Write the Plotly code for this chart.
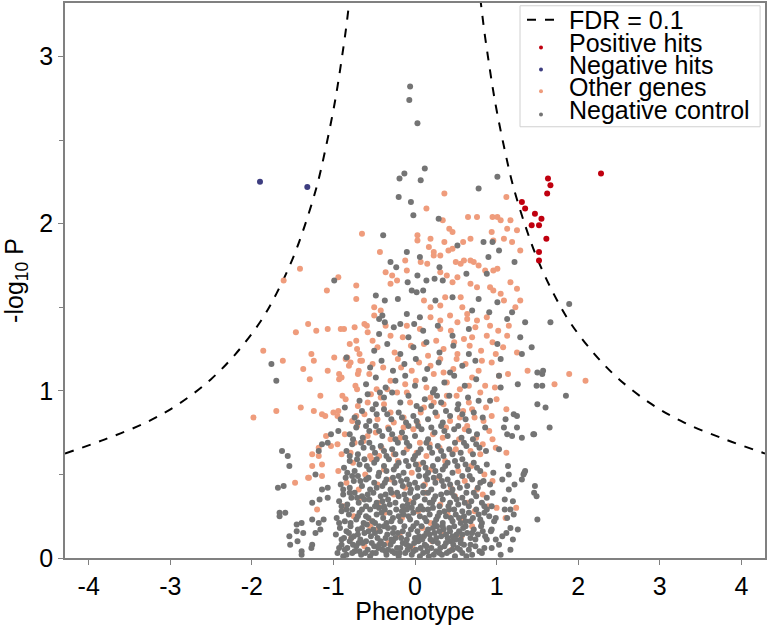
import plotly.graph_objects as go

# FDR = 0.1 threshold (right branch, left is mirrored)
fdr_x = [0.80, 0.85, 0.90, 0.95, 1.00, 1.10, 1.20, 1.35, 1.50, 1.70, 1.90, 2.20, 2.50, 2.90, 3.30, 3.80, 4.29]
fdr_y = [3.35, 3.15, 2.98, 2.82, 2.68, 2.44, 2.23, 1.99, 1.79, 1.58, 1.41, 1.22, 1.07, 0.92, 0.81, 0.71, 0.625]

positive_hits = [(2.28, 2.30), (1.63, 2.27), (1.66, 2.23), (1.62, 2.18), (1.31, 2.13), (1.35, 2.09),
                 (1.47, 2.06), (1.55, 2.03), (1.43, 1.99), (1.52, 1.99), (1.61, 1.91), (1.52, 1.83),
                 (1.52, 1.78)]

negative_hits = [(-1.90, 2.25), (-1.32, 2.22)]

# sparse "other genes" points, read one by one
other_outer = [
    (0.36, 2.18), (0.14, 2.09), (1.12, 2.16), (0.65, 2.04), (0.95, 2.04), (-0.65, 1.94), (-0.43, 1.83),
    (-0.94, 1.68), (-0.72, 1.63), (-0.72, 1.55), (0.34, 2.02), (0.42, 1.97), (0.46, 1.95), (0.76, 2.04),
    (1.01, 2.04), (1.05, 2.02), (1.17, 2.02), (1.13, 1.97), (1.25, 1.96), (1.09, 1.91), (1.19, 1.89),
    (1.29, 1.84), (0.94, 1.95), (0.96, 1.90), (0.03, 1.93), (0.03, 1.90), (0.19, 1.91), (0.36, 1.89),
    (0.59, 1.89), (0.68, 1.91), (0.17, 1.86), (0.23, 1.83), (0.41, 1.84), (0.46, 1.85), (-0.12, 1.78),
    (-0.10, 1.72), (0.07, 1.77), (0.15, 1.76), (0.23, 1.81), (0.31, 1.81), (0.50, 1.77), (0.56, 1.76),
    (0.60, 1.78), (0.68, 1.78), (0.72, 1.77), (0.78, 1.75), (0.86, 1.72), (0.96, 1.72), (1.01, 1.73),
    (-0.36, 1.71), (-0.28, 1.69), (-0.30, 1.64), (-0.22, 1.66), (0.31, 1.71), (0.39, 1.69), (0.46, 1.65),
    (0.52, 1.68), (0.68, 1.64), (0.76, 1.62), (0.92, 1.62), (0.96, 1.60), (1.05, 1.58), (1.17, 1.65),
    (1.25, 1.61), (-0.50, 1.50), (-0.42, 1.48), (-0.50, 1.45), (0.11, 1.54), (0.19, 1.50), (0.31, 1.51),
    (0.37, 1.56), (0.56, 1.56), (0.58, 1.50), (0.64, 1.46), (1.09, 1.54), (1.23, 1.50), (1.29, 1.54),
    (0.19, 1.44), (0.31, 1.42), (0.43, 1.45), (0.52, 1.41), (0.64, 1.43), (0.76, 1.42), (0.88, 1.44),
    (-0.87, 1.37), (-0.59, 1.39), (-1.31, 1.40), (-1.46, 1.35), (-1.21, 1.36), (-1.07, 1.37), (-0.91, 1.37),
    (-1.86, 1.24), (-1.62, 1.18), (-1.27, 1.22), (-1.24, 1.18), (-1.37, 1.13), (-1.29, 1.07), (-1.07, 1.12),
    (-0.99, 1.20), (-0.93, 1.10), (-0.93, 1.07), (-1.16, 0.97), (-1.40, 0.90), (-1.70, 0.88), (-1.24, 0.88),
    (-1.14, 0.86), (-1.10, 0.85), (-1.98, 0.84), (-0.79, 1.17), (-0.83, 1.20), (-0.72, 1.30), (-0.62, 1.40),
    (-0.71, 1.25), (-0.67, 1.18), (-0.70, 1.10), (-0.71, 1.01), (-1.00, 0.87), (-0.95, 0.85), (-1.41, 1.73),
    (-1.61, 1.66), (-1.08, 1.60), (-1.26, 0.62), (-1.26, 0.55), (-1.47, 0.45), (-1.31, 0.48), (-1.20, 0.29),
    (-1.30, 0.48), (-1.14, 0.49), (-1.18, 0.66), (-1.18, 0.61), (-1.14, 0.56), (-1.03, 0.67), (-1.09, 0.73),
    (1.15, 1.39), (1.13, 1.33), (1.25, 1.23), (1.38, 1.12), (1.14, 1.10), (1.71, 1.04), (1.89, 1.10),
    (2.09, 1.06), (1.12, 0.89), (1.12, 0.63), (1.24, 0.30), (1.11, 0.24), (1.00, 0.30)]

# dense part of the "other genes" cloud, estimated band by band
other_core = [
    (-0.78, 0.12), (-0.62, 0.07), (-0.47, 0.17), (-0.33, 0.09), (-0.19, 0.14), (-0.03, 0.06), (0.09, 0.18),
    (0.21, 0.10), (0.34, 0.15), (0.45, 0.05), (0.57, 0.13), (0.70, 0.19), (-0.55, 0.19), (0.26, 0.19),
    (-0.88, 0.31), (-0.75, 0.25), (-0.66, 0.36), (-0.53, 0.22), (-0.45, 0.33), (-0.37, 0.27), (-0.26, 0.38),
    (-0.16, 0.24), (-0.07, 0.34), (0.04, 0.28), (0.13, 0.39), (0.19, 0.21), (0.31, 0.32), (0.40, 0.26),
    (0.49, 0.37), (0.56, 0.23), (0.64, 0.33), (0.73, 0.28), (0.83, 0.38), (0.90, 0.31),
    (-0.94, 0.52), (-0.84, 0.45), (-0.76, 0.57), (-0.69, 0.41), (-0.61, 0.50), (-0.53, 0.59), (-0.46, 0.44),
    (-0.38, 0.53), (-0.29, 0.47), (-0.21, 0.58), (-0.12, 0.42), (-0.04, 0.51), (0.05, 0.56), (0.12, 0.44),
    (0.20, 0.53), (0.29, 0.48), (0.37, 0.58), (0.44, 0.42), (0.53, 0.52), (0.61, 0.46), (0.69, 0.55),
    (0.76, 0.41), (0.85, 0.50), (0.95, 0.46),
    (-0.95, 0.68), (-0.86, 0.74), (-0.79, 0.63), (-0.71, 0.79), (-0.63, 0.70), (-0.55, 0.61), (-0.48, 0.75),
    (-0.41, 0.66), (-0.33, 0.78), (-0.26, 0.62), (-0.18, 0.72), (-0.10, 0.65), (-0.02, 0.77), (0.06, 0.69),
    (0.14, 0.61), (0.22, 0.74), (0.30, 0.66), (0.38, 0.78), (0.46, 0.63), (0.54, 0.71), (0.61, 0.77),
    (0.68, 0.64), (0.75, 0.72), (0.83, 0.68), (0.91, 0.76), (0.99, 0.66),
    (-0.94, 0.88), (-0.85, 0.95), (-0.77, 0.82), (-0.70, 0.91), (-0.62, 0.86), (-0.54, 0.98), (-0.46, 0.83),
    (-0.38, 0.92), (-0.30, 0.87), (-0.22, 0.99), (-0.14, 0.84), (-0.06, 0.93), (0.03, 0.81), (0.11, 0.90),
    (0.19, 0.96), (0.27, 0.85), (0.35, 0.92), (0.43, 0.82), (0.51, 0.97), (0.59, 0.88), (0.66, 0.93),
    (0.73, 0.84), (0.80, 0.99), (0.87, 0.90), (0.94, 0.85), (1.00, 0.95),
    (-0.90, 1.08), (-0.81, 1.15), (-0.73, 1.03), (-0.65, 1.18), (-0.56, 1.10), (-0.47, 1.01), (-0.39, 1.14),
    (-0.30, 1.06), (-0.21, 1.19), (-0.12, 1.04), (-0.04, 1.12), (0.05, 1.17), (0.14, 1.02), (0.23, 1.10),
    (0.31, 1.19), (0.39, 1.05), (0.47, 1.13), (0.55, 1.01), (0.62, 1.16), (0.70, 1.08), (0.78, 1.12),
    (0.86, 1.03), (0.94, 1.17), (1.03, 1.09),
    (-0.80, 1.28), (-0.68, 1.22), (-0.58, 1.35), (-0.46, 1.26), (-0.36, 1.39), (-0.25, 1.23), (-0.15, 1.32),
    (-0.05, 1.27), (0.06, 1.37), (0.16, 1.21), (0.26, 1.30), (0.35, 1.25), (0.44, 1.36), (0.52, 1.22),
    (0.60, 1.31), (0.67, 1.27), (0.74, 1.38), (0.81, 1.24), (0.88, 1.33), (0.95, 1.29), (1.02, 1.36),
    (1.08, 1.26),
    (-0.90, 0.62), (-0.74, 0.69), (-0.58, 0.73), (-0.44, 0.61), (-0.30, 0.71), (-0.14, 0.78), (0.02, 0.63),
    (0.18, 0.68), (0.34, 0.72), (0.50, 0.65), (0.64, 0.79), (0.80, 0.62), (0.95, 0.71),
    (-0.89, 0.97), (-0.72, 0.85), (-0.58, 0.93), (-0.42, 0.96), (-0.26, 0.81), (-0.10, 0.99), (0.07, 0.87),
    (0.23, 0.93), (0.39, 0.97), (0.55, 0.84), (0.70, 0.89), (0.84, 0.82),
    (-0.85, 1.19), (-0.69, 1.12), (-0.52, 1.16), (-0.34, 1.01), (-0.17, 1.14), (0.01, 1.06), (0.19, 1.15),
    (0.35, 1.11), (0.51, 1.19), (0.66, 1.03), (0.82, 1.18), (0.98, 1.02),
    (-0.74, 1.38), (-0.52, 1.30), (-0.30, 1.33), (-0.10, 1.39), (0.11, 1.28), (0.31, 1.37), (0.48, 1.29),
    (0.70, 1.32), (0.92, 1.39), (0.99, 1.22)]

# sparse negative control points, read one by one
control_outer = [
    (-0.06, 2.82), (-0.07, 2.74), (0.03, 2.60), (0.12, 2.33), (-0.13, 2.30), (-0.19, 2.27), (0.07, 2.26),
    (1.01, 2.28), (0.78, 2.21), (-0.20, 2.16), (-0.05, 2.13), (-0.02, 2.05), (0.29, 2.03), (-0.39, 1.93),
    (-0.99, 1.66), (-0.10, 1.83), (-0.30, 1.77), (-0.23, 1.74), (0.06, 1.80), (0.30, 1.74), (0.52, 1.87),
    (0.84, 1.89), (0.95, 1.89), (1.03, 1.84), (1.22, 1.77), (0.90, 1.80), (-0.09, 1.65), (0.03, 1.69),
    (0.14, 1.66), (0.24, 1.67), (0.34, 1.66), (0.63, 1.70), (0.88, 1.70), (-0.48, 1.57), (-0.37, 1.54),
    (-0.21, 1.55), (-0.04, 1.60), (0.02, 1.59), (0.10, 1.60), (0.25, 1.54), (0.46, 1.56), (0.78, 1.55),
    (1.01, 1.53), (1.19, 1.47), (-0.40, 1.45), (-0.44, 1.43), (-0.37, 1.41), (-0.10, 1.46), (0.06, 1.44),
    (-0.18, 1.40), (-0.01, 1.40), (0.70, 1.48), (0.91, 1.47), (1.13, 1.43), (-1.76, 1.16), (-1.70, 1.06),
    (-0.84, 1.20), (-0.91, 0.83), (-0.86, 0.90), (-1.63, 0.64), (-1.56, 0.61), (-1.54, 0.55), (-1.68, 0.42),
    (-1.61, 0.43), (-1.66, 0.27), (-1.66, 0.25), (-1.59, 0.27), (-1.45, 0.20), (-1.39, 0.21), (-1.45, 0.16),
    (-1.37, 0.15), (-1.54, 0.13), (-1.53, 0.08), (-1.44, 0.10), (-1.39, 0.02), (-1.26, 0.33), (-1.26, 0.23),
    (-1.22, 0.15), (-1.26, 0.08), (-1.27, 0.06), (-1.18, 0.64), (-1.39, 0.04), (-1.17, 0.35), (-1.07, 0.36),
    (-1.18, 0.21), (-1.12, 0.23), (-1.16, 0.17), (-1.14, 0.41), (-1.07, 0.42), (-1.22, 0.50), (-1.14, 0.68),
    (-1.07, 0.69), (-0.94, 0.76), (-1.03, 0.74), (1.35, 1.41), (1.66, 1.41), (1.29, 1.32), (1.43, 1.26),
    (1.31, 1.22), (1.50, 1.11), (1.56, 1.10), (1.57, 1.12), (1.26, 1.04), (1.49, 1.03), (1.56, 1.03),
    (1.85, 0.97), (1.50, 0.92), (1.60, 0.90), (1.21, 0.86), (1.25, 0.85), (1.11, 0.83), (1.25, 0.78),
    (1.09, 0.78), (1.65, 0.78), (1.45, 0.74), (1.01, 1.28), (1.05, 1.19), (1.03, 1.09), (1.05, 1.02),
    (0.92, 0.94), (1.89, 1.52), (1.13, 0.74), (1.19, 0.73), (1.31, 0.72), (1.46, 0.74), (1.03, 0.65),
    (1.14, 0.55), (1.15, 0.50), (1.33, 0.50), (1.35, 0.52), (0.96, 0.51), (1.07, 0.47), (1.22, 0.44),
    (1.47, 0.43), (1.46, 0.39), (1.49, 0.37), (1.15, 0.41), (1.10, 0.35), (1.20, 0.34), (1.10, 0.29),
    (1.17, 0.29), (1.21, 0.26), (1.13, 0.24), (1.50, 0.23), (1.17, 0.18), (1.26, 0.17), (1.12, 0.15),
    (1.20, 0.11), (1.07, 0.13), (1.17, 0.05), (1.03, 0.08), (1.05, 0.02), (0.94, 0.31), (0.99, 0.24),
    (0.94, 0.17), (0.88, 0.11), (0.94, 0.06), (0.82, 0.03), (0.99, 0.11), (1.34, 0.51), (1.31, 0.47)]

# dense part of the negative control cloud, estimated band by band
control_core = [
    (-0.95, 0.03), (-0.90, 0.08), (-0.88, 0.01), (-0.83, 0.06), (-0.80, 0.10), (-0.74, 0.04), (-0.72, 0.07),
    (-0.66, 0.02), (-0.64, 0.09), (-0.58, 0.05), (-0.55, 0.01), (-0.50, 0.07), (-0.48, 0.03), (-0.42, 0.10),
    (-0.40, 0.05), (-0.35, 0.02), (-0.30, 0.08), (-0.28, 0.04), (-0.22, 0.06), (-0.20, 0.01), (-0.15, 0.09),
    (-0.12, 0.03), (-0.06, 0.07), (-0.04, 0.02), (0.01, 0.05), (0.04, 0.10), (0.10, 0.03), (0.12, 0.08),
    (0.17, 0.01), (0.20, 0.06), (0.26, 0.04), (0.28, 0.09), (0.33, 0.02), (0.36, 0.07), (0.42, 0.04),
    (0.44, 0.10), (0.49, 0.01), (0.52, 0.06), (0.58, 0.03), (0.60, 0.08), (0.66, 0.05), (0.70, 0.02),
    (0.74, 0.07), (0.79, 0.04), (0.85, 0.06),
    (-0.86, 0.05), (-0.77, 0.03), (-0.69, 0.09), (-0.61, 0.03), (-0.53, 0.09), (-0.45, 0.06), (-0.38, 0.08),
    (-0.33, 0.05), (-0.25, 0.03), (-0.18, 0.06), (-0.09, 0.05), (-0.01, 0.09), (0.07, 0.06), (0.15, 0.04),
    (0.23, 0.02), (0.31, 0.06), (0.39, 0.03), (0.47, 0.08), (0.55, 0.05), (0.63, 0.01),
    (-0.93, 0.06), (-0.84, 0.02), (-0.76, 0.08), (-0.68, 0.04), (-0.60, 0.10), (-0.52, 0.03), (-0.44, 0.08),
    (-0.36, 0.04), (-0.27, 0.10), (-0.19, 0.03), (-0.10, 0.08), (-0.02, 0.04), (0.06, 0.01), (0.14, 0.07),
    (0.22, 0.10), (0.30, 0.03), (0.38, 0.09), (0.46, 0.05), (0.56, 0.09), (0.68, 0.08),
    (-0.97, 0.14), (-0.92, 0.18), (-0.87, 0.12), (-0.84, 0.16), (-0.79, 0.19), (-0.75, 0.13), (-0.70, 0.17),
    (-0.67, 0.11), (-0.62, 0.15), (-0.59, 0.20), (-0.54, 0.13), (-0.51, 0.17), (-0.46, 0.12), (-0.43, 0.16),
    (-0.38, 0.19), (-0.34, 0.14), (-0.29, 0.11), (-0.26, 0.18), (-0.21, 0.15), (-0.17, 0.12), (-0.13, 0.19),
    (-0.08, 0.14), (-0.05, 0.17), (0.00, 0.12), (0.03, 0.16), (0.08, 0.19), (0.11, 0.13), (0.16, 0.17),
    (0.19, 0.11), (0.24, 0.15), (0.27, 0.19), (0.32, 0.13), (0.35, 0.17), (0.40, 0.12), (0.43, 0.16),
    (0.48, 0.19), (0.51, 0.14), (0.56, 0.11), (0.59, 0.18), (0.64, 0.15), (0.68, 0.12), (0.72, 0.17),
    (0.77, 0.14), (0.81, 0.19), (0.86, 0.13), (0.93, 0.16),
    (-0.81, 0.15), (-0.65, 0.18), (-0.49, 0.15), (-0.33, 0.18), (-0.24, 0.12), (-0.10, 0.11), (0.05, 0.13),
    (0.14, 0.15), (0.22, 0.18), (0.30, 0.16), (0.38, 0.14), (0.46, 0.13), (0.54, 0.16), (0.62, 0.19),
    (0.74, 0.11),
    (-0.90, 0.11), (-0.78, 0.12), (-0.70, 0.14), (-0.57, 0.16), (-0.44, 0.19), (-0.36, 0.12), (-0.27, 0.15),
    (-0.15, 0.16), (-0.02, 0.19), (0.09, 0.11), (0.18, 0.14), (0.26, 0.12), (0.34, 0.19), (0.42, 0.18),
    (0.50, 0.11), (0.58, 0.14), (0.70, 0.15), (0.83, 0.16),
    (-0.96, 0.24), (-0.90, 0.28), (-0.86, 0.22), (-0.81, 0.26), (-0.77, 0.29), (-0.72, 0.23), (-0.68, 0.27),
    (-0.63, 0.21), (-0.60, 0.25), (-0.55, 0.29), (-0.52, 0.22), (-0.47, 0.26), (-0.44, 0.30), (-0.39, 0.24),
    (-0.35, 0.21), (-0.31, 0.27), (-0.27, 0.24), (-0.23, 0.29), (-0.18, 0.22), (-0.14, 0.26), (-0.10, 0.29),
    (-0.06, 0.23), (-0.02, 0.27), (0.02, 0.21), (0.06, 0.25), (0.10, 0.29), (0.14, 0.22), (0.18, 0.26),
    (0.22, 0.30), (0.26, 0.23), (0.30, 0.27), (0.34, 0.21), (0.38, 0.25), (0.42, 0.29), (0.46, 0.22),
    (0.50, 0.26), (0.54, 0.24), (0.58, 0.28), (0.62, 0.22), (0.66, 0.27), (0.71, 0.24), (0.75, 0.29),
    (0.80, 0.23), (0.85, 0.27), (0.91, 0.25), (0.97, 0.22),
    (-0.79, 0.21), (-0.57, 0.24), (-0.41, 0.27), (-0.20, 0.25), (-0.04, 0.30), (0.12, 0.24), (0.28, 0.25),
    (0.44, 0.24), (0.60, 0.25), (0.78, 0.26),
    (-0.93, 0.21), (-0.84, 0.29), (-0.70, 0.25), (-0.65, 0.29), (-0.49, 0.21), (-0.37, 0.29), (-0.29, 0.22),
    (-0.16, 0.28), (-0.08, 0.25), (0.04, 0.29), (0.16, 0.29), (0.24, 0.21), (0.36, 0.28), (0.48, 0.29),
    (0.56, 0.21), (0.68, 0.22), (0.82, 0.21), (0.88, 0.29),
    (-0.93, 0.34), (-0.88, 0.38), (-0.83, 0.32), (-0.78, 0.36), (-0.74, 0.39), (-0.69, 0.33), (-0.65, 0.37),
    (-0.60, 0.31), (-0.56, 0.35), (-0.51, 0.39), (-0.47, 0.33), (-0.42, 0.37), (-0.38, 0.31), (-0.33, 0.35),
    (-0.29, 0.39), (-0.24, 0.33), (-0.20, 0.37), (-0.15, 0.31), (-0.11, 0.35), (-0.06, 0.39), (-0.02, 0.33),
    (0.03, 0.37), (0.07, 0.31), (0.12, 0.35), (0.16, 0.39), (0.21, 0.33), (0.25, 0.37), (0.30, 0.31),
    (0.34, 0.35), (0.39, 0.39), (0.43, 0.33), (0.48, 0.37), (0.53, 0.32), (0.58, 0.36), (0.63, 0.39),
    (0.69, 0.34), (0.75, 0.37), (0.82, 0.33), (0.88, 0.36), (0.95, 0.39),
    (-0.62, 0.35), (-0.36, 0.38), (-0.09, 0.32), (0.18, 0.33), (0.45, 0.39), (0.66, 0.31),
    (-0.90, 0.31), (-0.80, 0.39), (-0.71, 0.36), (-0.58, 0.38), (-0.49, 0.31), (-0.40, 0.34), (-0.31, 0.32),
    (-0.22, 0.39), (-0.13, 0.38), (0.00, 0.36), (0.10, 0.39), (0.23, 0.35), (0.32, 0.38), (0.41, 0.31),
    (0.51, 0.35), (0.61, 0.33), (0.72, 0.39), (0.85, 0.31),
    (-0.91, 0.44), (-0.85, 0.48), (-0.80, 0.42), (-0.75, 0.46), (-0.70, 0.49), (-0.65, 0.43), (-0.60, 0.47),
    (-0.55, 0.41), (-0.50, 0.45), (-0.45, 0.49), (-0.40, 0.43), (-0.35, 0.47), (-0.30, 0.41), (-0.25, 0.45),
    (-0.20, 0.49), (-0.15, 0.43), (-0.10, 0.47), (-0.05, 0.41), (0.00, 0.45), (0.05, 0.49), (0.10, 0.43),
    (0.15, 0.47), (0.20, 0.41), (0.25, 0.45), (0.30, 0.49), (0.35, 0.43), (0.40, 0.47), (0.46, 0.41),
    (0.52, 0.45), (0.58, 0.49), (0.64, 0.43), (0.70, 0.47), (0.77, 0.42), (0.84, 0.46), (0.92, 0.44),
    (-0.88, 0.41), (-0.77, 0.49), (-0.67, 0.46), (-0.57, 0.48), (-0.47, 0.42), (-0.37, 0.45), (-0.27, 0.48),
    (-0.17, 0.46), (-0.07, 0.44), (0.03, 0.42), (0.13, 0.49), (0.23, 0.48), (0.33, 0.46), (0.43, 0.44),
    (0.55, 0.42), (0.67, 0.49), (0.80, 0.45),
    (-0.87, 0.54), (-0.80, 0.58), (-0.74, 0.52), (-0.68, 0.56), (-0.62, 0.59), (-0.56, 0.53), (-0.50, 0.57),
    (-0.44, 0.51), (-0.38, 0.55), (-0.32, 0.59), (-0.26, 0.53), (-0.20, 0.57), (-0.14, 0.51), (-0.08, 0.55),
    (-0.02, 0.59), (0.04, 0.53), (0.10, 0.57), (0.16, 0.51), (0.22, 0.55), (0.28, 0.59), (0.34, 0.53),
    (0.40, 0.57), (0.46, 0.51), (0.52, 0.55), (0.58, 0.59), (0.65, 0.53), (0.72, 0.57), (0.80, 0.52),
    (0.88, 0.56),
    (-0.83, 0.51), (-0.71, 0.59), (-0.59, 0.55), (-0.47, 0.59), (-0.35, 0.52), (-0.23, 0.55), (-0.11, 0.58),
    (0.01, 0.56), (0.13, 0.54), (0.25, 0.52), (0.37, 0.55), (0.49, 0.58), (0.62, 0.56), (0.76, 0.54),
    (-0.84, 0.64), (-0.77, 0.68), (-0.70, 0.62), (-0.63, 0.66), (-0.56, 0.69), (-0.49, 0.63), (-0.42, 0.67),
    (-0.35, 0.61), (-0.28, 0.65), (-0.21, 0.69), (-0.14, 0.63), (-0.07, 0.67), (0.00, 0.61), (0.07, 0.65),
    (0.14, 0.69), (0.21, 0.63), (0.28, 0.67), (0.35, 0.61), (0.42, 0.65), (0.49, 0.69), (0.56, 0.63),
    (0.63, 0.67), (0.71, 0.62), (0.79, 0.66), (0.87, 0.64),
    (-0.80, 0.61), (-0.66, 0.69), (-0.52, 0.66), (-0.38, 0.64), (-0.24, 0.62), (-0.10, 0.69), (0.04, 0.63),
    (0.18, 0.66), (0.32, 0.64), (0.46, 0.62), (0.60, 0.69), (0.75, 0.68),
    (-0.80, 0.74), (-0.72, 0.78), (-0.64, 0.72), (-0.56, 0.76), (-0.48, 0.79), (-0.40, 0.73), (-0.32, 0.77),
    (-0.24, 0.71), (-0.16, 0.75), (-0.08, 0.79), (0.00, 0.73), (0.08, 0.77), (0.16, 0.71), (0.24, 0.75),
    (0.32, 0.79), (0.40, 0.73), (0.48, 0.77), (0.57, 0.72), (0.66, 0.76), (0.76, 0.74), (0.86, 0.78),
    (-0.76, 0.71), (-0.60, 0.79), (-0.44, 0.76), (-0.28, 0.74), (-0.12, 0.72), (0.04, 0.79), (0.20, 0.78),
    (0.36, 0.76), (0.53, 0.79), (0.71, 0.71),
    (-0.74, 0.84), (-0.65, 0.88), (-0.56, 0.82), (-0.47, 0.86), (-0.38, 0.89), (-0.29, 0.83), (-0.20, 0.87),
    (-0.11, 0.81), (-0.02, 0.85), (0.07, 0.89), (0.16, 0.83), (0.25, 0.87), (0.34, 0.81), (0.43, 0.85),
    (0.52, 0.89), (0.62, 0.83), (0.72, 0.87), (0.83, 0.84),
    (-0.70, 0.81), (-0.52, 0.89), (-0.34, 0.86), (-0.16, 0.84), (0.02, 0.82), (0.20, 0.91), (0.38, 0.88),
    (0.58, 0.86), (-0.43, 0.99), (0.27, 0.97),
    (-0.68, 0.94), (-0.58, 0.98), (-0.48, 0.92), (-0.38, 0.96), (-0.28, 0.99), (-0.18, 0.93), (-0.08, 0.97),
    (0.02, 0.91), (0.12, 0.95), (0.22, 0.99), (0.32, 0.93), (0.42, 0.97), (0.53, 0.92), (0.65, 0.96),
    (0.78, 0.94),
    (-0.60, 1.04), (-0.48, 1.08), (-0.36, 1.02), (-0.24, 1.06), (-0.12, 1.09), (0.00, 1.03), (0.12, 1.07),
    (0.24, 1.01), (0.36, 1.05), (0.48, 1.09), (0.61, 1.03), (0.75, 1.07),
    (-0.55, 1.14), (-0.41, 1.18), (-0.27, 1.12), (-0.13, 1.16), (0.01, 1.19), (0.15, 1.13), (0.29, 1.17),
    (0.43, 1.11), (0.58, 1.15), (0.74, 1.18),
    (-0.50, 1.24), (-0.34, 1.28), (-0.18, 1.22), (-0.02, 1.26), (0.14, 1.29), (0.30, 1.23), (0.47, 1.27),
    (0.66, 1.22),
    (-0.44, 1.34), (-0.26, 1.38), (-0.08, 1.32), (0.10, 1.36), (0.28, 1.39), (0.46, 1.33), (0.66, 1.37)]

legend_labels = ['FDR = 0.1', 'Positive hits', 'Negative hits', 'Other genes', 'Negative control']

COLORS = {'pos': '#c0000f', 'neg': '#3d3d80', 'other': '#ef9c7c', 'ctrl': '#747474'}
FONT = "Arial, Liberation Sans, sans-serif"


def unzip(points):
    return [p[0] for p in points], [p[1] for p in points]


fig = go.Figure()

# both branches of the threshold in one trace, gap in between
curve_x = [-x for x in reversed(fdr_x)] + [None] + fdr_x
curve_y = list(reversed(fdr_y)) + [None] + fdr_y
fig.add_trace(go.Scatter(
    x=curve_x, y=curve_y, mode='lines', name=legend_labels[0],
    line=dict(color='black', width=2, dash='dash', shape='spline')
))

ox, oy = unzip(other_outer + other_core)
fig.add_trace(go.Scatter(
    x=ox, y=oy, mode='markers', name=legend_labels[3],
    marker=dict(color=COLORS['other'], size=6, line=dict(width=0))
))

cx, cy = unzip(control_outer + control_core)
fig.add_trace(go.Scatter(
    x=cx, y=cy, mode='markers', name=legend_labels[4],
    marker=dict(color=COLORS['ctrl'], size=6, line=dict(width=0))
))

px_, py_ = unzip(positive_hits)
fig.add_trace(go.Scatter(
    x=px_, y=py_, mode='markers', name=legend_labels[1],
    marker=dict(color=COLORS['pos'], size=6, line=dict(width=0))
))

nx, ny = unzip(negative_hits)
fig.add_trace(go.Scatter(
    x=nx, y=ny, mode='markers', name=legend_labels[2],
    marker=dict(color=COLORS['neg'], size=6, line=dict(width=0))
))

# legend drawn by hand so its rows can be as tight as in the original
leg_x0, leg_x1, leg_top, leg_bottom = 0.650, 0.993, 0.995, 0.777
row_y = [0.970, 0.928, 0.888, 0.849, 0.807]
sym_x = 0.68
text_x = 0.717
shapes = [dict(type='rect', xref='paper', yref='paper', x0=leg_x0, x1=leg_x1, y0=leg_bottom, y1=leg_top,
               line=dict(color='#d0d0d0', width=1), fillcolor='white', layer='above'),
          dict(type='line', xref='paper', yref='paper', x0=sym_x - 0.02, x1=sym_x + 0.02,
               y0=row_y[0], y1=row_y[0], line=dict(color='black', width=2, dash='dash'), layer='above')]
for yy, col in zip(row_y[1:], [COLORS['pos'], COLORS['neg'], COLORS['other'], COLORS['ctrl']]):
    shapes.append(dict(type='circle', xref='paper', yref='paper', xsizemode='pixel', ysizemode='pixel',
                       xanchor=sym_x, yanchor=yy - 0.008, x0=-2, x1=2, y0=-2, y1=2,
                       fillcolor=col, line=dict(width=0), layer='above'))
annotations = [dict(text=lab, xref='paper', yref='paper', x=text_x, y=yy, xanchor='left', yanchor='middle',
                    showarrow=False, font=dict(size=25, family=FONT, color='black'))
               for lab, yy in zip(legend_labels, row_y)]

axis_common = dict(
    showline=True, linecolor='#808080', linewidth=1.5, mirror=True,
    ticks='outside', ticklen=5, tickcolor='#808080',
    showgrid=False, zeroline=False, automargin=False,
    tickfont=dict(size=25, color='black', family=FONT),
)

fig.update_layout(
    width=768, height=625,
    margin=dict(l=65, r=3, t=3, b=67),
    paper_bgcolor='white', plot_bgcolor='white',
    font=dict(family=FONT, color='black'),
    showlegend=False,
    shapes=shapes,
    annotations=annotations,
    xaxis=dict(
        range=[-4.29, 4.29], tickmode='array', tickvals=[-4, -3, -2, -1, 0, 1, 2, 3, 4],
        ticktext=['-4', '-3', '-2', '-1', '0', '1', '2', '3', '4'],
        title=dict(text='Phenotype', font=dict(size=25, family=FONT), standoff=0),
        **axis_common
    ),
    yaxis=dict(
        range=[0, 3.32], tickmode='array', tickvals=[0, 1, 2, 3],
        minor=dict(ticks='outside', ticklen=4, tickcolor='#808080', dtick=0.5, tick0=0),
        title=dict(text='-log<sub>10</sub> P', font=dict(size=25, family=FONT), standoff=10),
        **axis_common
    ),
)

# the page's default body margin would push the figure 8px off the window
fig.write_html("out.html", config={'displayModeBar': False},
               post_script="document.body.style.margin='0';")
